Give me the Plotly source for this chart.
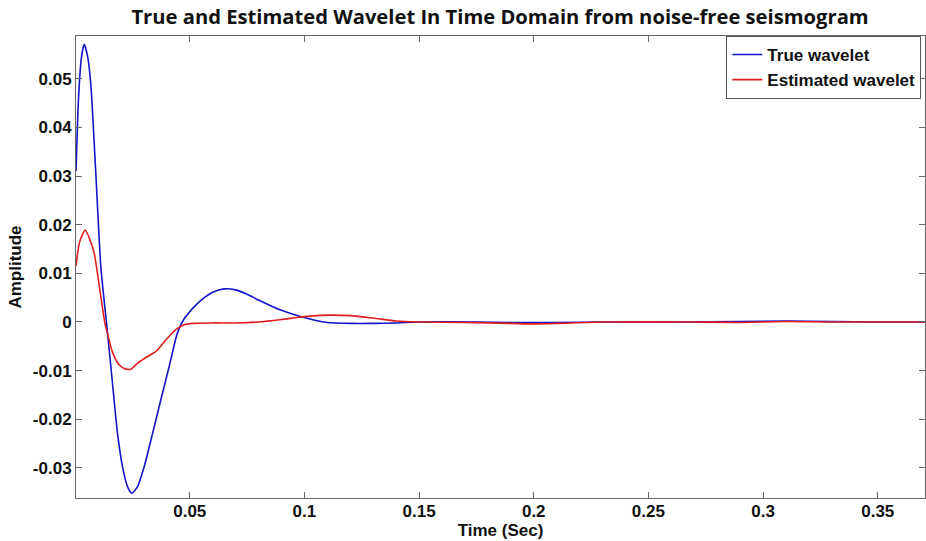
import plotly.graph_objects as go

# Time samples (s) and amplitudes
t_true = [0.0004, 0.0015, 0.0028, 0.0040, 0.0055, 0.0069, 0.0091, 0.0112, 0.0131, 0.0142,
          0.0156, 0.0170, 0.0185, 0.0207, 0.0229, 0.0247, 0.0272, 0.0301, 0.0338, 0.0374,
          0.0410, 0.0446, 0.0475, 0.0519, 0.0555, 0.060, 0.065, 0.070, 0.075, 0.080,
          0.085, 0.090, 0.095, 0.100, 0.105, 0.110, 0.120, 0.130, 0.140, 0.150,
          0.175, 0.190, 0.200, 0.210, 0.230, 0.260, 0.290, 0.310, 0.330, 0.350, 0.3706]
v_true = [0.031, 0.046, 0.0545, 0.0571, 0.0545, 0.0486, 0.030, 0.0115, 0.0025, -0.0025,
          -0.0092, -0.0160, -0.0229, -0.0298, -0.0339, -0.0352, -0.0339, -0.0298, -0.0229, -0.0160,
          -0.0092, -0.0023, 0.0006, 0.0031, 0.0047, 0.0061, 0.0068, 0.0066, 0.0057, 0.0045,
          0.0034, 0.0024, 0.0016, 0.0009, 0.0003, -0.0001, -0.0003, -0.0003, -0.0002, 0.0,
          0.0, -0.0001, -0.0001, -0.0001, 0.0, 0.0, 0.0001, 0.0002, 0.0001, 0.0, 0.0]

t_est = [0.0004, 0.0020, 0.0044, 0.0060, 0.0083, 0.0112, 0.0131, 0.0142, 0.0163, 0.0192,
         0.0221, 0.0243, 0.0272, 0.0316, 0.0352, 0.0396, 0.0439, 0.0475, 0.0512, 0.060,
         0.070, 0.080, 0.090, 0.100, 0.110, 0.120, 0.130, 0.140, 0.150, 0.170,
         0.190, 0.200, 0.210, 0.230, 0.270, 0.290, 0.310, 0.330, 0.3706]
v_est = [0.0115, 0.0165, 0.0189, 0.0175, 0.0142, 0.0053, -0.0005, -0.0025, -0.0062, -0.0088,
         -0.0097, -0.0097, -0.0085, -0.0071, -0.0061, -0.0037, -0.0016, -0.0006, -0.0003, -0.0002,
         -0.0002, 0.0, 0.0005, 0.0011, 0.0014, 0.0013, 0.0008, 0.0002, 0.0, -0.0001,
         -0.0003, -0.0004, -0.0003, 0.0, 0.0, -0.0001, 0.0001, 0.0, 0.0]

x_ticks = [0.05, 0.1, 0.15, 0.2, 0.25, 0.3, 0.35]
x_tick_labels = ["0.05", "0.1", "0.15", "0.2", "0.25", "0.3", "0.35"]
y_ticks = [-0.03, -0.02, -0.01, 0, 0.01, 0.02, 0.03, 0.04, 0.05]
y_tick_labels = ["-0.03", "-0.02", "-0.01", "0", "0.01", "0.02", "0.03", "0.04", "0.05"]

fig = go.Figure()
fig.add_trace(go.Scatter(x=t_true, y=v_true, mode="lines", name="<b>True wavelet</b>",
                         line=dict(color="#1414c8", width=1.6, shape="spline", smoothing=0.6)))
fig.add_trace(go.Scatter(x=t_est, y=v_est, mode="lines", name="<b>Estimated wavelet</b>",
                         line=dict(color="#e01e1e", width=1.6, shape="spline", smoothing=0.6)))

fam = "Liberation Sans, Arial, sans-serif"
tick_font = dict(family=fam, size=17, color="#111")
title_font = dict(family=fam, size=17, color="#111")
fig.update_layout(
    width=926, height=541,
    margin=dict(l=76, r=1, t=36, b=43, autoexpand=False),
    paper_bgcolor="white", plot_bgcolor="white",
    title=dict(text="<b>True and Estimated Wavelet In Time Domain from noise-free seismogram</b>",
               x=0.54, xanchor="center", y=0.9686, yanchor="middle",
               font=dict(family="Open Sans, sans-serif", size=20.2, color="#111")),
    xaxis=dict(range=[0.0004, 0.3706], tickvals=x_ticks, ticktext=["<b>%s</b>" % s for s in x_tick_labels],
               ticks="inside", ticklen=6, tickcolor="#666", showline=True, linecolor="#666",
               linewidth=1, mirror="ticks", showgrid=False, zeroline=False, tickfont=tick_font,
               ticklabelstandoff=-2,
               title=dict(text="<b>Time (Sec)</b>", font=title_font, standoff=2)),
    yaxis=dict(range=[-0.0362, 0.0588], tickvals=y_ticks, ticktext=["<b>%s</b>" % s for s in y_tick_labels],
               ticks="inside", ticklen=6, tickcolor="#666", showline=True, linecolor="#666",
               linewidth=1, mirror="ticks", showgrid=False, zeroline=False, tickfont=tick_font,
               title=dict(text="<b>Amplitude</b>", font=title_font, standoff=6)),
    legend=dict(x=0.766, y=1.0, xanchor="left", yanchor="top", bgcolor="white",
                bordercolor="#555", borderwidth=1, font=dict(family=fam, size=17, color="#111"),
                tracegroupgap=0, itemwidth=30),
    showlegend=True,
)

fig.write_html("out.html")
